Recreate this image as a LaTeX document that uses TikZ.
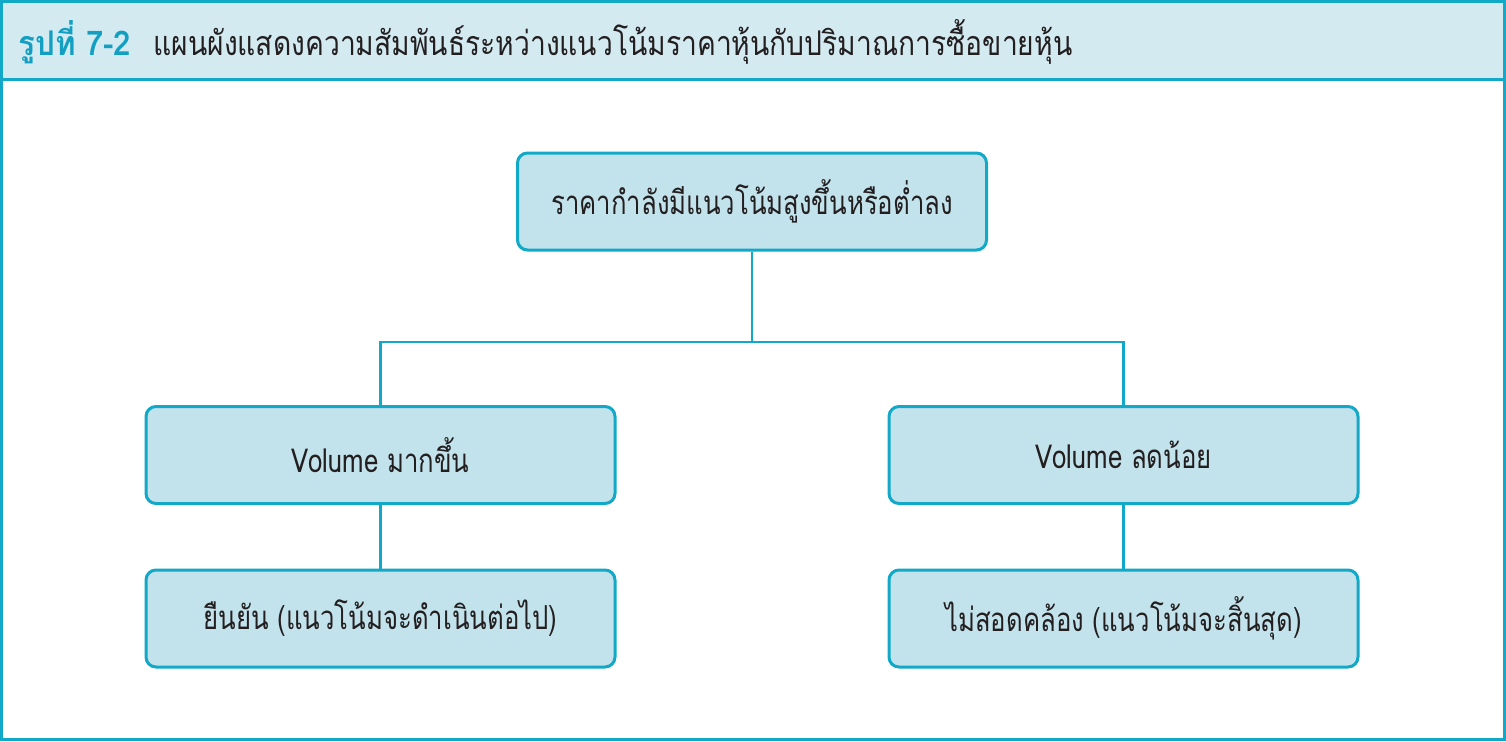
\documentclass[tikz,border=0pt]{standalone}
\usepackage{fontspec}
\setmainfont[Script=Thai]{Loma}
\newfontfamily\boxfont[Script=Thai,FakeStretch=0.78]{Loma}
\newfontfamily\titlefont[Script=Thai,FakeStretch=0.83]{Loma}
\newfontfamily\labelfont[Script=Thai,FakeStretch=0.92]{Loma}
\definecolor{edge}{HTML}{12A8C8}
\definecolor{boxfill}{HTML}{C3E3EC}
\definecolor{barfill}{HTML}{D3EAF1}
\definecolor{titlecol}{HTML}{139FC2}
\definecolor{txt}{HTML}{231F20}
\begin{document}
\begin{tikzpicture}[x=0.5pt,y=-0.5pt,
  box/.style={draw=edge,fill=boxfill,line width=1.5pt,rounded corners=5pt,
    minimum width=234.5pt,minimum height=48.5pt,inner sep=0pt,
    text=txt,font=\boxfont\fontsize{16.5}{19}\selectfont},
  link/.style={draw=edge,line width=1.2pt}]
\useasboundingbox (0,0) rectangle (1506,741);
\fill[white] (0,0) rectangle (1506,741);
\draw[edge,fill=barfill,line width=1.5pt] (1.5,1.5) rectangle (1504.5,79);
\draw[edge,line width=1.5pt] (1.5,79) -- (1.5,739.5) -- (1504.5,739.5) -- (1504.5,79);
\node[anchor=west,inner sep=0pt,font=\titlefont\fontsize{17}{20}\selectfont] (title) at (18,42)
  {\textcolor{titlecol}{\labelfont\bfseries รูปที่ 7-2}\hspace{11pt}\textcolor{txt}{แผนผังแสดงความสัมพันธ์ระหว่างแนวโน้มราคาหุ้นกับปริมาณการซื้อขายหุ้น}};
\node[box] (top) at (752,201.5) {ราคากำลังมีแนวโน้มสูงขึ้นหรือต่ำลง};
\node[box] (lm) at (380.5,455) {Volume มากขึ้น};
\node[box] (rm) at (1123.5,455) {Volume ลดน้อย};
\node[box] (lb) at (380.5,618.5) {ยืนยัน (แนวโน้มจะดำเนินต่อไป)};
\node[box] (rb) at (1123.5,618.5) {ไม่สอดคล้อง (แนวโน้มจะสิ้นสุด)};
\coordinate (mid) at (752,342);
\draw[link] (top.south) -- (mid);
\draw[link] (lm.north) |- (mid) -| (rm.north);
\draw[link] (lm.south) -- (lb.north);
\draw[link] (rm.south) -- (rb.north);
\end{tikzpicture}
\end{document}
